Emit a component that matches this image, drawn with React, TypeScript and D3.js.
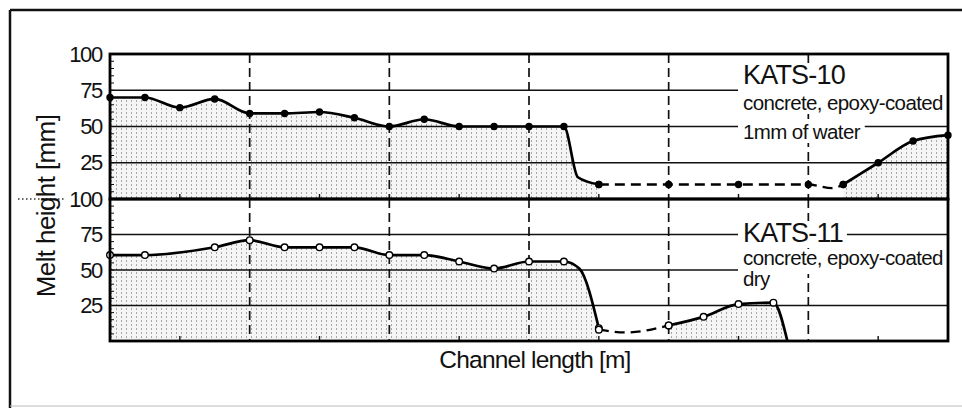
import React, { useEffect, useRef } from 'react'
import * as d3 from 'd3'

// KATS-10 (1mm of water): solid, dashed, solid
const kats10ChannelA = [0, 0.25, 0.5, 0.75, 1, 1.25, 1.5, 1.75, 2, 2.25, 2.5, 2.75, 3, 3.25, 3.35, 3.5]
const kats10MeltA = [70, 70, 63, 69, 59, 59, 60, 56, 50, 55, 50, 50, 50, 50, 15, 10]
const kats10ChannelB = [3.5, 4, 4.5, 5, 5.17, 5.25]
const kats10MeltB = [10, 10, 10, 10, 7.5, 10]
const kats10ChannelC = [5.25, 5.5, 5.75, 6]
const kats10MeltC = [10, 25, 40, 44]

// KATS-11 (dry)
const kats11ChannelA = [0, 0.25, 0.75, 1, 1.25, 1.5, 1.75, 2, 2.25, 2.5, 2.75, 3, 3.25, 3.36, 3.5]
const kats11MeltA = [60.5, 60.5, 66, 71, 66, 66, 66, 60.5, 60.5, 56, 51, 56, 56, 51, 9]
const kats11ChannelB = [3.5, 3.7, 4]
const kats11MeltB = [8, 6, 11]
const kats11ChannelC = [4, 4.25, 4.5, 4.75, 4.85]
const kats11MeltC = [11, 17, 26, 27, 0]

const yTicks = [25, 50, 75, 100]
const gridValues = [25, 50, 75]
const dividers = [1, 2, 3, 4, 5]
const halfTicks = [0.5, 1.5, 2.5, 3.5, 4.5, 5.5]

const zip = (xs: number[], ys: number[]) => xs.map((x, i) => [x, ys[i]] as [number, number])

export default function App() {
  const ref = useRef<SVGSVGElement>(null)

  useEffect(() => {
    const svg = d3.select(ref.current)
    svg.selectAll('*').remove()

    const left = 110, right = 948
    const x = d3.scaleLinear().domain([0, 6]).range([left, right])
    const yTop = d3.scaleLinear().domain([0, 100]).range([199, 54])
    const yBot = d3.scaleLinear().domain([0, 100]).range([341, 199])
    const font = 'Liberation Sans, Arial, sans-serif'

    // stipple pattern for the melt area
    const defs = svg.append('defs')
    const pat = defs.append('pattern').attr('id', 'stip')
      .attr('patternUnits', 'userSpaceOnUse').attr('width', 5).attr('height', 4)
    pat.append('rect').attr('width', 5).attr('height', 4).attr('fill', '#f5f5f5')
    pat.append('rect').attr('x', 1).attr('y', 0).attr('width', 1).attr('height', 2).attr('fill', '#a8a8a8')
    defs.append('clipPath').attr('id', 'plotclip').append('rect')
      .attr('x', 0).attr('y', 0).attr('width', right).attr('height', 408)

    // outer frame
    svg.append('line').attr('x1', 10).attr('x2', 962).attr('y1', 10).attr('y2', 10)
      .attr('stroke', '#111').attr('stroke-width', 2.5)
    svg.append('line').attr('x1', 10).attr('x2', 10).attr('y1', 10).attr('y2', 408)
      .attr('stroke', '#111').attr('stroke-width', 2.5)
    svg.append('line').attr('x1', 10).attr('x2', 962).attr('y1', 406).attr('y2', 406)
      .attr('stroke', '#bbb').attr('stroke-width', 1)

    const panels = [
      { y: yTop, parts: [[kats10ChannelA, kats10MeltA, false], [kats10ChannelB, kats10MeltB, true], [kats10ChannelC, kats10MeltC, false]], open: false },
      { y: yBot, parts: [[kats11ChannelA, kats11MeltA, false], [kats11ChannelB, kats11MeltB, true], [kats11ChannelC, kats11MeltC, false]], open: true },
    ] as const

    const frames: any[] = []
    panels.forEach((p) => {
      const y = p.y
      const g = svg.append('g')

      // filled areas under solid segments
      p.parts.forEach(([cx, my, dashed]) => {
        if (dashed) return
        const area = d3.area<[number, number]>().x(d => x(d[0])).y0(y(0)).y1(d => y(d[1])).curve(d3.curveMonotoneX)
        g.append('path').attr('d', area(zip(cx as number[], my as number[]))).attr('fill', 'url(#stip)')
      })

      // horizontal grid
      g.selectAll('.grid').data(gridValues).enter().append('line')
        .attr('x1', left).attr('x2', right).attr('y1', d => y(d)).attr('y2', d => y(d))
        .attr('stroke', '#111').attr('stroke-width', 1.5)

      // dashed dividers
      g.selectAll('.div').data(dividers).enter().append('line')
        .attr('x1', d => x(d)).attr('x2', d => x(d)).attr('y1', y(100)).attr('y2', y(0))
        .attr('stroke', '#111').attr('stroke-width', 1.7).attr('stroke-dasharray', '9,5')

      // minor ticks
      g.selectAll('.yt').data(d3.range(5, 100, 5)).enter().append('line')
        .attr('x1', left).attr('x2', left + 4).attr('y1', d => y(d)).attr('y2', d => y(d))
        .attr('stroke', '#111').attr('stroke-width', 1)
      g.selectAll('.xt').data(halfTicks).enter().append('line')
        .attr('x1', d => x(d)).attr('x2', d => x(d)).attr('y1', y(0)).attr('y2', y(0) - 5)
        .attr('stroke', '#111').attr('stroke-width', 1.4)

      // lines
      p.parts.forEach(([cx, my, dashed]) => {
        const line = d3.line<[number, number]>().x(d => x(d[0])).y(d => y(d[1])).curve(d3.curveMonotoneX)
        g.append('path').attr('d', line(zip(cx as number[], my as number[])))
          .attr('fill', 'none').attr('stroke', '#000').attr('stroke-width', dashed ? 2.3 : 2.7)
          .attr('stroke-dasharray', dashed ? '10,6' : null)
      })

      // markers at the measuring stations (every 0.25 m)
      const pts = p.parts.flatMap(([cx, my]) => zip(cx as number[], my as number[]))
        .filter(d => Math.abs(d[0] * 4 - Math.round(d[0] * 4)) < 1e-6)
      g.selectAll('.mk').data(pts).enter().append('circle')
        .attr('cx', d => x(d[0])).attr('cy', d => y(d[1]))
        .attr('r', p.open ? 3.3 : 3)
        .attr('fill', p.open ? '#fff' : '#000').attr('stroke', '#000').attr('stroke-width', 1.4)

      // y axis labels
      const ax = g.append('g').attr('transform', `translate(${left - 5},0)`)
        .call(d3.axisLeft(y).tickValues(yTicks).tickSize(0).tickFormat(d3.format('d')))
      ax.select('.domain').remove()
      ax.selectAll('text').attr('font-family', font).attr('font-size', 22)
        .attr('letter-spacing', -1.3).attr('fill', '#111')

      frames.push(y)
    })

    // annotations with white background
    const notes = [
      { t: 'KATS-10', y: 84, size: 27, toEdge: true, below: 6 },
      { t: 'concrete, epoxy-coated', y: 110, size: 20.5, toEdge: true, below: 0 },
      { t: '1mm of water', y: 139, size: 20.5, toEdge: false, below: 0 },
      { t: 'KATS-11', y: 242, size: 27, toEdge: false, below: 0 },
      { t: 'concrete, epoxy-coated', y: 265, size: 20.5, toEdge: true, below: 5 },
      { t: 'dry', y: 286, size: 20.5, toEdge: false, below: 0 },
    ]
    const ng = svg.append('g').attr('clip-path', 'url(#plotclip)')
    notes.forEach(n => {
      const bg = ng.append('rect').attr('fill', '#fff')
      const tx = ng.append('text').attr('x', 743).attr('y', n.y)
        .attr('font-family', font).attr('font-size', n.size)
        .attr('letter-spacing', n.size > 24 ? -0.8 : -0.6).attr('fill', '#111').text(n.t)
      const b = (tx.node() as SVGTextElement).getBBox()
      const x1 = 738
      const x2 = n.toEdge ? right : b.x + b.width + 4
      bg.attr('x', x1).attr('y', b.y + 3).attr('width', x2 - x1).attr('height', b.height - 3 + n.below)
    })

    // panel frames on top
    frames.forEach(y => {
      svg.append('rect').attr('x', left).attr('y', y(100)).attr('width', right - left).attr('height', y(0) - y(100))
        .attr('fill', 'none').attr('stroke', '#000').attr('stroke-width', 2.8)
    })

    // dotted leader to the shared 100 label
    svg.append('line').attr('x1', 18).attr('x2', 66).attr('y1', 199).attr('y2', 199)
      .attr('stroke', '#333').attr('stroke-width', 1.3).attr('stroke-dasharray', '1.5,2.5')

    // axis titles
    svg.append('text').attr('transform', 'translate(55,206) rotate(-90)')
      .attr('text-anchor', 'middle').attr('font-family', font).attr('font-size', 26)
      .attr('letter-spacing', -0.6).attr('fill', '#111').text('Melt height [mm]')
    svg.append('text').attr('x', 535).attr('y', 368).attr('text-anchor', 'middle')
      .attr('font-family', font).attr('font-size', 24.5).attr('letter-spacing', -0.8)
      .attr('fill', '#111').text('Channel length [m]')
  }, [])

  return (
    <svg ref={ref} width={962} height={408} style={{ position: 'absolute', left: 0, top: 0, background: '#fff' }} />
  )
}
